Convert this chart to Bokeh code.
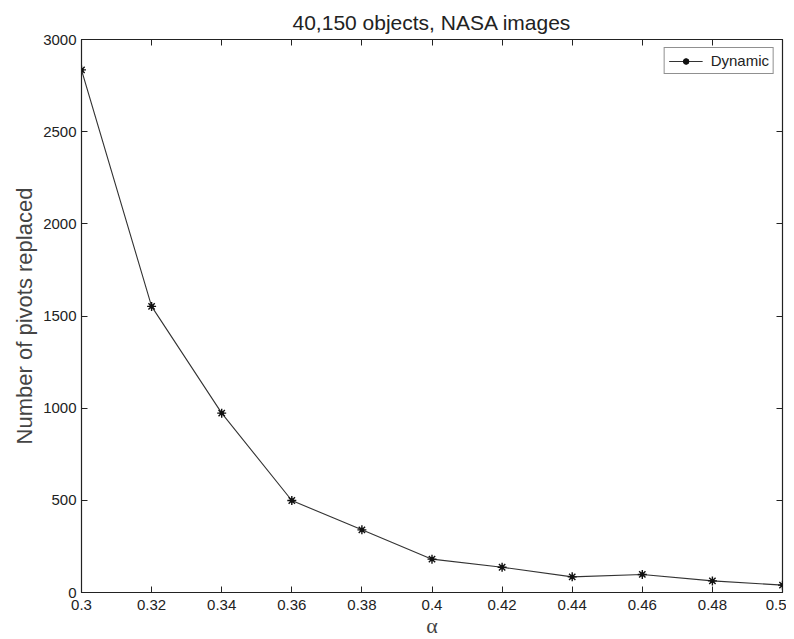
from bokeh.plotting import figure
from bokeh.models import LinearAxis, FixedTicker, Range1d, Legend, LegendItem, CustomJSTickFormatter
from bokeh.embed import file_html
from bokeh.resources import INLINE

alpha = [0.30, 0.32, 0.34, 0.36, 0.38, 0.40, 0.42, 0.44, 0.46, 0.48, 0.50]
replaced = [2835, 1552, 973, 499, 340, 181, 137, 85, 98, 63, 40]
x_ticks = [0.30, 0.32, 0.34, 0.36, 0.38, 0.40, 0.42, 0.44, 0.46, 0.48, 0.50]
x_tick_labels = ["0.3", "0.32", "0.34", "0.36", "0.38", "0.4", "0.42", "0.44", "0.46", "0.48", "0.5"]
y_ticks = [0, 500, 1000, 1500, 2000, 2500, 3000]

FONT = "Liberation Sans"

p = figure(frame_width=701, frame_height=553, output_backend="svg", toolbar_location=None,
           x_range=Range1d(0.3, 0.5), y_range=Range1d(0, 3000),
           min_border_left=81, min_border_right=4, min_border_top=39, min_border_bottom=36,
           title="40,150 objects, NASA images")
p.title.align = "center"
p.title.text_font = FONT
p.title.text_font_size = "21px"
p.title.text_font_style = "normal"
p.title.text_color = "#222222"
p.title.standoff = 12

p.xgrid.visible = False
p.ygrid.visible = False
p.outline_line_color = "#222222"
p.outline_line_width = 1.2
p.background_fill_color = "white"
p.border_fill_color = "white"

def style_axis(ax, labels=True):
    ax.axis_line_color = "#222222"
    ax.major_tick_line_color = "#222222"
    ax.major_tick_in = 6
    ax.major_tick_out = 0
    ax.minor_tick_line_color = None
    ax.major_label_text_font = FONT
    ax.major_label_text_color = "#222222"
    ax.major_label_text_font_size = "15px"
    if not labels:
        ax.formatter = CustomJSTickFormatter(code="return '';")
        ax.major_label_standoff = 0

xa = p.xaxis[0]
xa.ticker = FixedTicker(ticks=x_ticks)
xa.major_label_overrides = {t: l for t, l in zip(x_ticks, x_tick_labels)}
style_axis(xa)
xa.major_label_standoff = 7
xa.axis_label = "α"
xa.axis_label_text_font = "Liberation Serif"
xa.axis_label_text_font_style = "normal"
xa.axis_label_text_font_size = "22px"
xa.axis_label_standoff = 0

ya = p.yaxis[0]
ya.ticker = FixedTicker(ticks=y_ticks)
style_axis(ya)
ya.major_label_standoff = 5
ya.axis_label = "Number of pivots replaced"
ya.axis_label_text_font = FONT
ya.axis_label_text_font_style = "normal"
ya.axis_label_text_font_size = "22px"
ya.axis_label_standoff = 3

top = LinearAxis(ticker=FixedTicker(ticks=x_ticks))
style_axis(top, labels=False)
top.axis_line_color = None
p.add_layout(top, "above")
right = LinearAxis(ticker=FixedTicker(ticks=y_ticks))
style_axis(right, labels=False)
right.axis_line_color = None
p.add_layout(right, "right")

ln = p.line(alpha, replaced, line_color="#333333", line_width=1.1)
st = p.scatter(alpha, replaced, marker="asterisk", size=9, line_color="#111111", line_width=1.4)
dt = p.scatter(alpha, replaced, marker="circle", size=3.5, fill_color="#111111", line_color="#111111")

legend = Legend(items=[LegendItem(label="Dynamic", renderers=[ln, st, dt])],
                location="top_right", margin=8, padding=4, spacing=0,
                label_text_font=FONT, label_text_font_size="15px",
                label_text_color="#222222", glyph_width=34, glyph_height=14,
                label_height=14, label_standoff=8,
                border_line_color="#222222", border_line_width=1,
                background_fill_alpha=1)
p.add_layout(legend)

open("out.html", "w").write(file_html(p, INLINE))
